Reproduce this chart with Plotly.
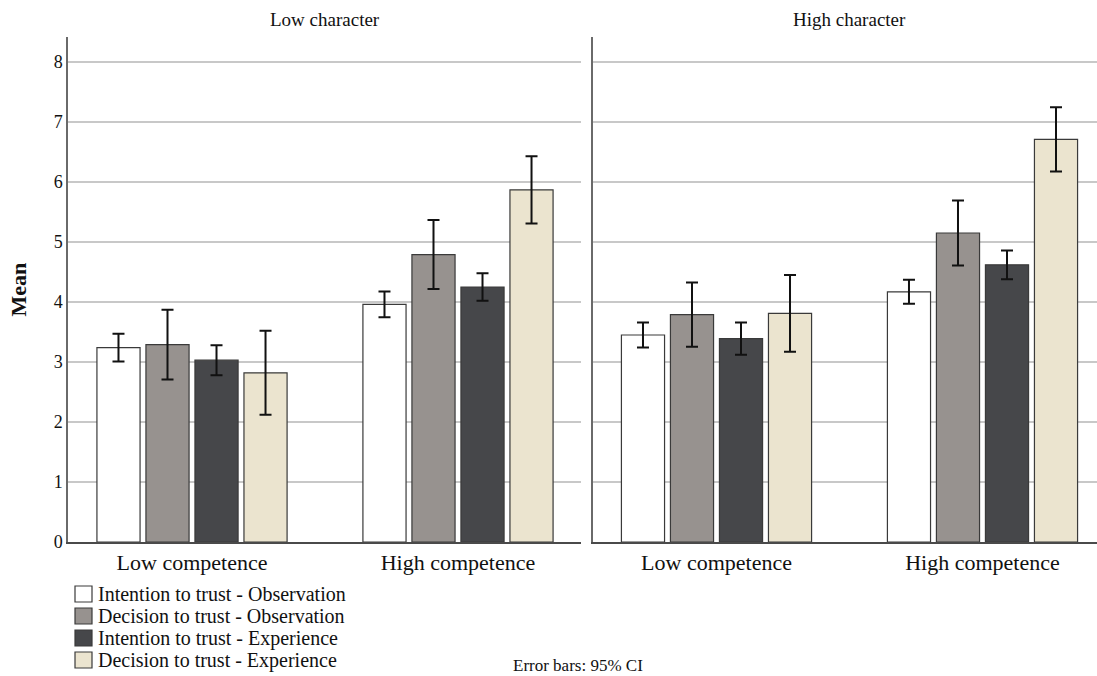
import plotly.graph_objects as go

# Means and 95% CI half-widths, one row per series, columns follow `competence`
panels = ["Low character", "High character"]
competence = ["Low competence", "High competence"]
series = [
    "Intention to trust - Observation",
    "Decision to trust - Observation",
    "Intention to trust - Experience",
    "Decision to trust - Experience",
]
colors = ["#ffffff", "#97928f", "#46474a", "#ebe4cf"]

mean_low_character = [[3.24, 3.96], [3.29, 4.79], [3.03, 4.25], [2.82, 5.87]]
ci_low_character = [[0.23, 0.215], [0.58, 0.575], [0.25, 0.23], [0.70, 0.56]]

mean_high_character = [[3.45, 4.17], [3.79, 5.15], [3.39, 4.62], [3.81, 6.71]]
ci_high_character = [[0.21, 0.20], [0.535, 0.54], [0.27, 0.24], [0.64, 0.535]]

y_ticks = [0, 1, 2, 3, 4, 5, 6, 7, 8]

FONT = "Liberation Serif"
W, H = 1097, 676
ML, MR, MT, MB = 68, 0, 37, 134
PW, PH = W - ML - MR, H - MT - MB


def px_x(p):
    return (p - ML) / PW


def px_y(p):
    return (H - MB - p) / PH


fig = go.Figure()
panel_data = [(mean_low_character, ci_low_character, "x", "y"),
              (mean_high_character, ci_high_character, "x2", "y2")]
for means, cis, xa, ya in panel_data:
    for i, name in enumerate(series):
        fig.add_trace(go.Bar(
            x=list(range(len(competence))),
            y=means[i],
            name=name,
            xaxis=xa, yaxis=ya,
            marker=dict(color=colors[i], line=dict(color="#3a3a3a", width=1.2)),
            error_y=dict(type="data", array=cis[i], visible=True,
                         color="#111111", thickness=2, width=6),
            showlegend=False,
        ))

axis_common = dict(
    tickvals=list(range(len(competence))), ticktext=competence,
    showgrid=False, zeroline=False, ticks="",
    showline=True, linecolor="#4a4a4a", linewidth=1.5,
    tickfont=dict(family=FONT, size=22, color="#111111"),
    fixedrange=True,
)
yaxis_common = dict(
    range=[0, (H - MB - MT) / 60], tickvals=y_ticks,
    showgrid=True, gridcolor="#c8c8c8", gridwidth=1.5,
    zeroline=False, ticks="", showline=True, linecolor="#6a6a6a", linewidth=1.5,
    tickfont=dict(family=FONT, size=18, color="#111111"),
)

fig.update_layout(
    width=W, height=H,
    margin=dict(l=ML, r=MR, t=MT, b=MB),
    paper_bgcolor="white", plot_bgcolor="white",
    barmode="group", bargap=0.263, bargroupgap=0.12,
    font=dict(family=FONT, color="#111111"),
    showlegend=False,
    xaxis=dict(domain=[0, px_x(581)], range=[-0.4662, 1.4624], anchor="y", **axis_common),
    xaxis2=dict(domain=[px_x(593), 1], range=[-0.4643, 1.4305], anchor="y2", **axis_common),
    yaxis=dict(anchor="x", **yaxis_common),
    yaxis2=dict(anchor="x2", showticklabels=False, **yaxis_common),
)

# Panel headers and y-axis title
for title, cx in zip(panels, [324.5, 849.5]):
    fig.add_annotation(text=title, xref="paper", yref="paper",
                       x=px_x(cx), y=px_y(20), showarrow=False,
                       xanchor="center", yanchor="middle",
                       font=dict(family=FONT, size=19, color="#111111"))
fig.add_annotation(text="<b>Mean</b>", xref="paper", yref="paper",
                   x=px_x(18), y=0.5, textangle=-90, showarrow=False,
                   xanchor="center", yanchor="middle",
                   font=dict(family=FONT, size=22, color="#111111"))

# Legend drawn as swatches with labels beneath the left panel
for i, name in enumerate(series):
    cy = 594 + 22 * i
    fig.add_shape(type="rect", xref="paper", yref="paper",
                  x0=px_x(75), x1=px_x(92), y0=px_y(cy - 8), y1=px_y(cy + 8),
                  fillcolor=colors[i], line=dict(color="#3a3a3a", width=1.2))
    fig.add_annotation(text=name, xref="paper", yref="paper",
                       x=px_x(96), y=px_y(cy), showarrow=False,
                       xanchor="left", yanchor="middle",
                       font=dict(family=FONT, size=20, color="#111111"))

fig.add_annotation(text="Error bars: 95% CI", xref="paper", yref="paper",
                   x=px_x(577.5), y=px_y(665), showarrow=False,
                   xanchor="center", yanchor="middle",
                   font=dict(family=FONT, size=17, color="#111111"))

fig.write_html("out.html")
